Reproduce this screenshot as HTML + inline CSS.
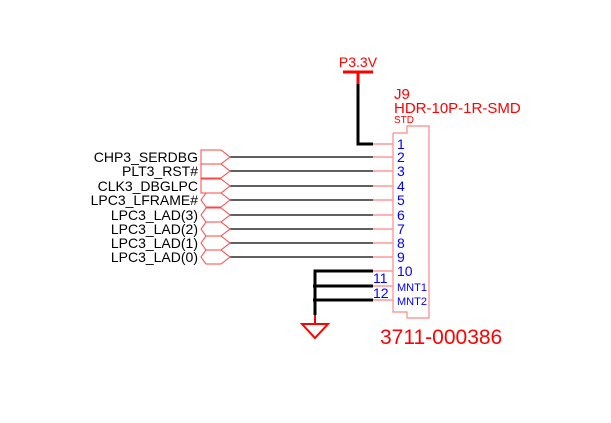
<!DOCTYPE html>
<html><head><style>
html,body{margin:0;padding:0;background:#fff;width:611px;height:423px;overflow:hidden}
svg{display:block}
text{font-family:"Liberation Sans",Arial,sans-serif}
</style></head><body>
<svg width="611" height="423" viewBox="0 0 611 423" xmlns="http://www.w3.org/2000/svg">
<!-- power -->
<line x1="343" y1="72" x2="373" y2="72" stroke="#f00" stroke-width="3"/>
<line x1="358" y1="72" x2="358" y2="84" stroke="#f00" stroke-width="3"/>
<polyline points="358,84 358,144 373,144" fill="none" stroke="#000" stroke-width="3"/>
<text x="358" y="67" font-size="14" fill="#f00" text-anchor="middle">P3.3V</text>
<!-- component -->
<text x="394" y="99" font-size="15" fill="#f00">J9</text>
<text x="394" y="113" font-size="15" fill="#f00">HDR-10P-1R-SMD</text>
<text x="394" y="123" font-size="10" fill="#f00">STD</text>
<polyline points="393,133 407,133 407,126 429,126 429,318 407,318 407,312 393,312 393,133" fill="none" stroke="#f88" stroke-width="1.2"/>
<text x="380" y="344" font-size="21" fill="#f00">3711-000386</text>
<!-- stubs -->
<g stroke="#f99" stroke-width="1.5">
<line x1="373" y1="144" x2="393" y2="144"/><line x1="373" y1="157" x2="393" y2="157"/>
<line x1="373" y1="171" x2="393" y2="171"/><line x1="373" y1="186" x2="393" y2="186"/>
<line x1="373" y1="200" x2="393" y2="200"/><line x1="373" y1="215" x2="393" y2="215"/>
<line x1="373" y1="229" x2="393" y2="229"/><line x1="373" y1="243" x2="393" y2="243"/>
<line x1="373" y1="257" x2="393" y2="257"/><line x1="373" y1="271" x2="393" y2="271"/>
<line x1="373" y1="286" x2="393" y2="286"/><line x1="373" y1="300" x2="393" y2="300"/>
</g>
<g font-size="14" fill="#00f">
<text x="397" y="149">1</text><text x="397" y="162">2</text><text x="397" y="176">3</text>
<text x="397" y="191">4</text><text x="397" y="205">5</text><text x="397" y="220">6</text>
<text x="397" y="234">7</text><text x="397" y="248">8</text><text x="397" y="262">9</text>
<text x="397" y="276">10</text>
<text x="397" y="291" font-size="11">MNT1</text><text x="397" y="305" font-size="11">MNT2</text>
<text x="373" y="283">11</text><text x="373" y="298">12</text>
</g>
<!-- wires -->
<g stroke="#000" stroke-width="1.3">
<line x1="230" y1="157" x2="373" y2="157"/><line x1="230" y1="171" x2="373" y2="171"/>
<line x1="230" y1="186" x2="373" y2="186"/><line x1="230" y1="200" x2="373" y2="200"/>
<line x1="230" y1="215" x2="373" y2="215"/><line x1="230" y1="229" x2="373" y2="229"/>
<line x1="230" y1="243" x2="373" y2="243"/><line x1="230" y1="257" x2="373" y2="257"/>
</g>
<!-- ports -->
<g fill="none" stroke="#f44" stroke-width="1">
<polygon points="201,150 221,150 230,157 221,164 201,164"/>
<polygon points="201,164 221,164 230,171 221,178 201,178"/>
<polygon points="201,179 221,179 230,186 221,193 201,193"/>
<polygon points="201,200 206,193 221,193 230,200 221,207 206,207"/>
<polygon points="201,215 206,208 221,208 230,215 221,222 206,222"/>
<polygon points="201,229 206,222 221,222 230,229 221,236 206,236"/>
<polygon points="201,243 206,236 221,236 230,243 221,250 206,250"/>
<polygon points="201,257 206,250 221,250 230,257 221,264 206,264"/>
</g>
<g font-size="14" fill="#000" text-anchor="end">
<text x="198" y="162">CHP3_SERDBG</text><text x="198" y="176">PLT3_RST#</text>
<text x="198" y="191">CLK3_DBGLPC</text><text x="198" y="205">LPC3_LFRAME#</text>
<text x="198" y="220">LPC3_LAD(3)</text><text x="198" y="234">LPC3_LAD(2)</text>
<text x="198" y="248">LPC3_LAD(1)</text><text x="198" y="262">LPC3_LAD(0)</text>
</g>
<!-- ground -->
<g stroke="#000" stroke-width="3" fill="none">
<polyline points="373,271 315,271 315,315"/>
<line x1="313" y1="286" x2="373" y2="286"/>
<line x1="313" y1="300" x2="373" y2="300"/>
</g>
<line x1="315" y1="315" x2="315" y2="324" stroke="#f00" stroke-width="2"/>
<polygon points="302,324 328,324 315,338" fill="none" stroke="#f00" stroke-width="2"/>
</svg>
</body></html>
